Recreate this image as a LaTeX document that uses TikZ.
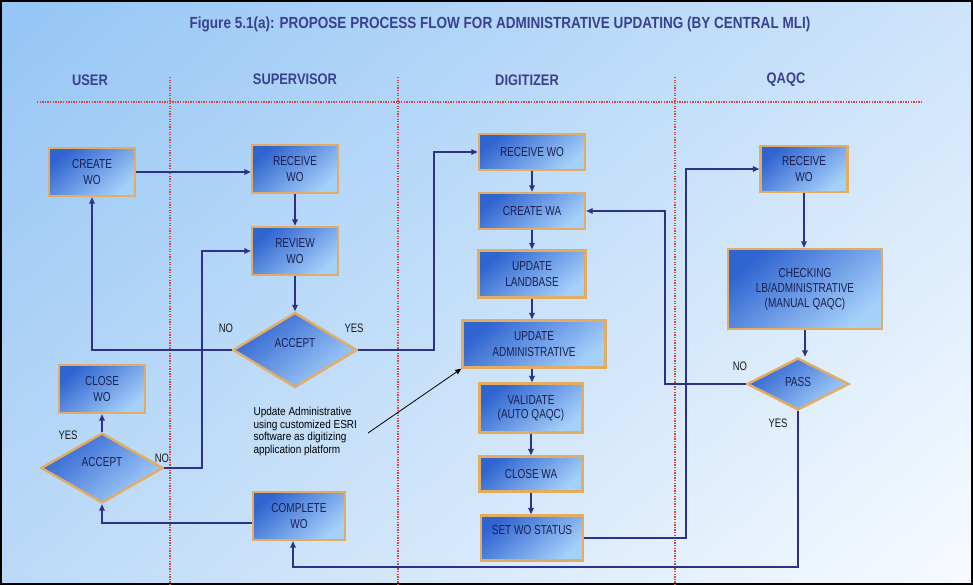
\documentclass[tikz,border=0pt]{standalone}
\usepackage{fontspec}
\setmainfont{Liberation Sans}
\newfontfamily\tallfont[FakeStretch=0.77]{Liberation Sans}
\newfontfamily\headfont[FakeStretch=0.84]{Liberation Sans}
\newfontfamily\notefont[FakeStretch=0.87]{Liberation Sans}
\usetikzlibrary{shapes.geometric,arrows.meta,calc,shadings}
\definecolor{bgA}{RGB}{148,197,245}
\definecolor{bgB}{RGB}{205,228,250}
\definecolor{bgC}{RGB}{188,218,247}
\definecolor{bgD}{RGB}{248,251,255}
\definecolor{boxdark}{RGB}{48,100,208}
\definecolor{boxlight}{RGB}{165,208,250}
\definecolor{boxborder}{RGB}{226,172,98}
\definecolor{boxtext}{RGB}{26,32,80}
\definecolor{titleblue}{RGB}{58,64,145}
\definecolor{linkblue}{RGB}{46,49,140}
\definecolor{lanered}{RGB}{210,70,70}
\tikzset{
  x=1pt, y=-1pt,
  procbox/.style={rectangle, draw=boxborder, line width=2.4pt, inner sep=0pt,
    top color=boxdark, bottom color=boxlight, shading angle=40,
    text=boxtext, font=\tallfont\fontsize{13}{16}\selectfont, align=center},
  decbox/.style={diamond, draw=boxborder, line width=2.4pt, inner sep=0pt,
    top color=boxdark, bottom color=boxlight, shading angle=40,
    text=boxtext, font=\tallfont\fontsize{13}{16}\selectfont},
  link/.style={draw=linkblue, line width=2pt, -{Triangle[length=6.5pt,width=5.5pt]}},
  lane/.style={draw=lanered, line width=1.3pt, dash pattern=on 1.3pt off 1.3pt},
  header/.style={font=\headfont\bfseries\fontsize{15.3}{17}\selectfont, text=titleblue},
  yn/.style={font=\tallfont\fontsize{12.3}{14}\selectfont, text=black!90},
}
\begin{document}
\begin{tikzpicture}
\useasboundingbox (0,0) rectangle (973,585);
\shade[upper left=bgA, upper right=bgB, lower left=bgC, lower right=bgD] (0,0) rectangle (973,585);
\draw[black, line width=2pt] (1,1) rectangle (972,584);

% title and lane headers
\node[font=\headfont\bfseries\fontsize{16.1}{18}\selectfont, text=titleblue] (title) at (500,24) {Figure 5.1(a): PROPOSE PROCESS FLOW FOR ADMINISTRATIVE UPDATING (BY CENTRAL MLI)};
\node[header] (hUser) at (90,80) {USER};
\node[header] (hSup) at (295,79) {SUPERVISOR};
\node[header] (hDig) at (527,80) {DIGITIZER};
\node[header] (hQa) at (786,80) {QAQC};

% lane lines
\draw[lane] (37,102) -- (923,102);
\draw[lane] (170,77) -- (170,585);
\draw[lane] (398,77) -- (398,585);
\draw[lane] (675,77) -- (675,585);

% user / supervisor
\node[procbox, minimum width=86pt, minimum height=48pt] (createwo) at (92,172) {CREATE\\WO};
\node[procbox, minimum width=86pt, minimum height=48pt] (recv1) at (295,169) {RECEIVE\\WO};
\node[procbox, minimum width=86pt, minimum height=48pt] (review) at (295,251) {REVIEW\\WO};
\node[decbox, minimum width=124pt, minimum height=75pt] (acc1) at (295,350) {\raisebox{14pt}{ACCEPT}};
\node[procbox, minimum width=86pt, minimum height=48pt] (closewo) at (102,389) {CLOSE\\WO};
\node[decbox, minimum width=122pt, minimum height=70pt] (acc2) at (102,468) {\raisebox{12pt}{ACCEPT}};
\node[procbox, minimum width=92pt, minimum height=48pt] (complete) at (299,516) {COMPLETE\\WO};

% digitizer
\node[procbox, minimum width=106pt, minimum height=36pt] (recv2) at (532,152) {RECEIVE WO};
\node[procbox, minimum width=106pt, minimum height=36pt] (createwa) at (532,211) {CREATE WA};
\node[procbox, minimum width=107pt, minimum height=47pt] (landbase) at (532,274) {UPDATE\\LANDBASE};
\node[procbox, minimum width=143pt, minimum height=47pt] (updadmin) at (534,344) {UPDATE\\ADMINISTRATIVE};
\node[procbox, minimum width=103pt, minimum height=49pt, font=\tallfont\fontsize{13}{14}\selectfont] (validate) at (531,408) {VALIDATE\\(AUTO QAQC)};
\node[procbox, minimum width=103pt, minimum height=35pt] (closewa) at (531,474) {CLOSE WA};
\node[procbox, minimum width=102pt, minimum height=45pt] (setwo) at (532,538) {\raisebox{16pt}{SET WO STATUS}};

% qaqc
\node[procbox, minimum width=87pt, minimum height=46pt] (recv3) at (804,169) {RECEIVE\\WO};
\node[procbox, minimum width=154pt, minimum height=80pt, font=\tallfont\fontsize{13}{15}\selectfont] (checking) at (805,289) {CHECKING\\LB/ADMINISTRATIVE\\(MANUAL QAQC)};
\node[decbox, minimum width=102pt, minimum height=52pt] (pass) at (798,384) {\raisebox{4pt}{PASS}};

% annotation
\node[anchor=north west, align=left, font=\notefont\fontsize{11.5}{12.4}\selectfont, text=black] (note) at (250,404) {Update Administrative\\using customized ESRI\\software as digitizing\\application platform};
\coordinate (noteTail) at (368,433);
\draw[black, line width=0.8pt, -{Triangle[length=6pt,width=5pt]}] (noteTail) -- (updadmin.south west);

% labels
\node[yn] (lNo1) at (226,328) {NO};
\node[yn] (lYes1) at (354,328) {YES};
\node[yn] (lNo2) at (162,458) {NO};
\node[yn] (lYes2) at (68,435) {YES};
\node[yn] (lNo3) at (740,366) {NO};
\node[yn] (lYes3) at (778,423) {YES};

% connectors
\coordinate (j1) at (434,350);
\coordinate (j2) at (202,468);
\coordinate (j3) at (686,538);
\coordinate (j4) at (665,384);
\coordinate (j5) at (293,567);
\draw[link] (createwo.east) -- (createwo.east -| recv1.west);
\draw[link] (recv1.south) -- (review.north);
\draw[link] (review.south) -- (acc1.north);
\draw[link] (acc1.west) -| (createwo.south);
\draw[link] (acc1.east) -- (j1) |- (recv2.west);
\draw[link] (acc2.east) -- (j2) |- (review.west);
\draw[link] (acc2.north) -- (closewo.south);
\draw[link] ($(complete.west)+(0,7)$) -| (acc2.south);
\draw[link] (recv2.south) -- (recv2.south |- createwa.north);
\draw[link] (createwa.south) -- (createwa.south |- landbase.north);
\draw[link] (landbase.south) -- (landbase.south |- updadmin.north);
\draw[link] (updadmin.south -| landbase.south) -- (landbase.south |- validate.north);
\draw[link] (validate.south) -- (validate.south |- closewa.north);
\draw[link] (closewa.south) -- (closewa.south |- setwo.north);
\draw[link] (setwo.east) -- (j3) |- (recv3.west);
\draw[link] (recv3.south) -- (recv3.south |- checking.north);
\draw[link] (checking.south) -- (checking.south |- pass.north);
\draw[link] (pass.west) -- (j4) |- (createwa.east);
\draw[link] (pass.south) |- (j5) -- (j5 |- complete.south);
\end{tikzpicture}
\end{document}
